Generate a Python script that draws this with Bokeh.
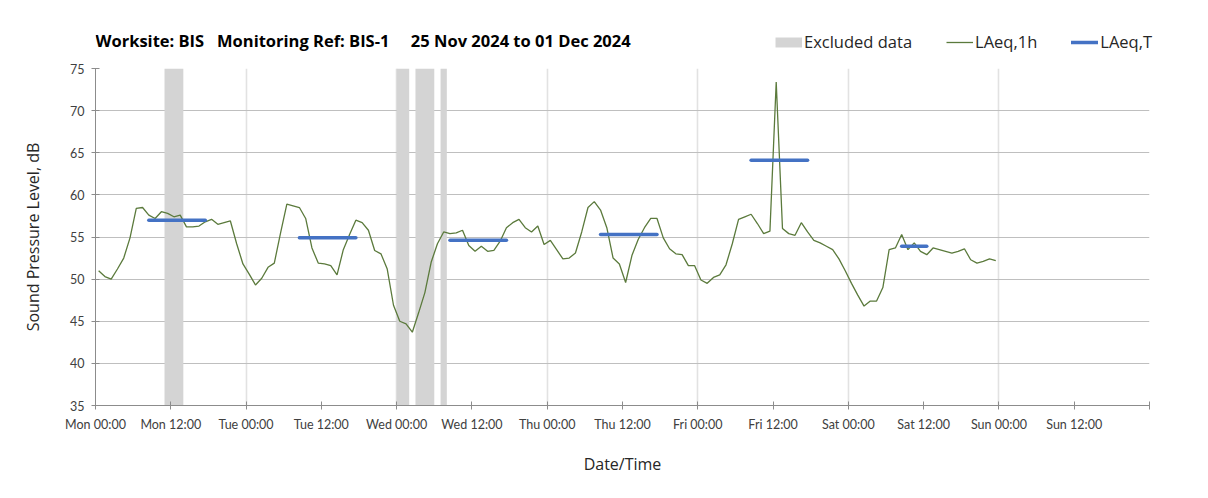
from bokeh.plotting import figure
from bokeh.layouts import column
from bokeh.models import (Range1d, FixedTicker, Label, Legend, LegendItem,
                          ColumnDataSource)
from bokeh.embed import file_html
from bokeh.resources import INLINE

# ---------------- data ----------------
NB = "\u00a0"
title_text = ("Worksite: BIS" + NB * 3 + "Monitoring Ref: BIS-1" + NB * 5 +
              "25 Nov 2024 to 01 Dec 2024")

# hourly LAeq,1h values, Mon 00:00 .. Sat 23:00 (one per hour)
laeq_1h = [
    # Mon
    51.0, 50.3, 50.0, 51.2, 52.5, 54.9, 58.4, 58.5, 57.6, 57.2, 58.0, 57.8,
    57.4, 57.6, 56.2, 56.2, 56.3, 56.8, 57.1, 56.5, 56.7, 56.9, 54.2, 51.8,
    # Tue
    50.6, 49.3, 50.1, 51.4, 51.9, 55.5, 58.9, 58.7, 58.5, 57.2, 53.7, 51.9,
    51.8, 51.6, 50.5, 53.5, 55.3, 57.0, 56.7, 55.8, 53.4, 53.0, 51.2, 46.9,
    # Wed
    45.0, 44.7, 43.7, 46.0, 48.4, 52.0, 54.2, 55.6, 55.4, 55.5, 55.8, 54.0,
    53.3, 53.9, 53.3, 53.4, 54.5, 56.1, 56.7, 57.1, 56.1, 55.6, 56.3, 54.1,
    # Thu
    54.6, 53.5, 52.4, 52.5, 53.1, 55.6, 58.5, 59.2, 58.2, 56.1, 52.5, 51.8,
    49.6, 52.8, 54.7, 56.1, 57.2, 57.2, 54.9, 53.6, 53.0, 52.9, 51.6, 51.6,
    # Fri
    49.9, 49.5, 50.2, 50.5, 51.7, 54.2, 57.1, 57.4, 57.7, 56.6, 55.4, 55.7,
    73.4, 56.0, 55.4, 55.2, 56.7, 55.6, 54.6, 54.3, 53.9, 53.5, 52.4, 51.0,
    # Sat
    49.5, 48.1, 46.8, 47.4, 47.4, 49.0, 53.5, 53.7, 55.3, 53.5, 54.3, 53.3,
    52.9, 53.7, 53.5, 53.3, 53.1, 53.3, 53.6, 52.3, 51.9, 52.1, 52.4, 52.2,
]
# hour (from Mon 00:00) of the middle of each hourly period
hour_mid = [h + 0.5 for h in range(len(laeq_1h))]

# LAeq,T periods (hours from Mon 00:00) and levels
laeqT_start = [8.5, 32.5, 56.5, 80.5, 104.5, 128.5]
laeqT_end = [17.5, 41.5, 65.5, 89.5, 113.5, 132.5]
laeqT_val = [57.0, 54.9, 54.6, 55.3, 64.1, 53.9]

# excluded data periods (hours from Mon 00:00)
excl_start = [11, 48, 51, 55]
excl_end = [14, 50, 54, 56]

tick_hours = list(range(0, 169, 12))
tick_labels = ["Mon 00:00", "Mon 12:00", "Tue 00:00", "Tue 12:00",
               "Wed 00:00", "Wed 12:00", "Thu 00:00", "Thu 12:00",
               "Fri 00:00", "Fri 12:00", "Sat 00:00", "Sat 12:00",
               "Sun 00:00", "Sun 12:00", ""]
day_hours = list(range(24, 169, 24))
y_ticks = [35, 40, 45, 50, 55, 60, 65, 70, 75]
y_min, y_max = 35, 75

FONT = "Lato"
FONT2 = "Open Sans"
TXT = "#404040"
C_EXCL = "#d4d4d4"
C_1H = "#5b7a3c"
C_T = "#4472c4"

W = 1200
HEAD_H = 61

# ---------------- header (title + legend) ----------------
head = figure(width=W, height=HEAD_H, frame_width=W, frame_height=HEAD_H,
              min_border=0, x_range=Range1d(0, W), y_range=Range1d(0, HEAD_H),
              output_backend="svg", toolbar_location=None)
head.axis.visible = False
head.grid.visible = False
head.outline_line_color = None
head.background_fill_color = "white"
head.border_fill_color = "white"

h_ex = head.line([float("nan")], [float("nan")], line_color=C_EXCL,
                 line_width=10, line_cap="butt")
h_1h = head.line([float("nan")], [float("nan")], line_color=C_1H, line_width=1.3)
h_T = head.line([float("nan")], [float("nan")], line_color=C_T, line_width=3.5,
                line_cap="round")
legend = Legend(items=[LegendItem(label="Excluded data", renderers=[h_ex]),
                       LegendItem(label="LAeq,1h", renderers=[h_1h]),
                       LegendItem(label="LAeq,T", renderers=[h_T])],
                orientation="horizontal", location=(775, HEAD_H - 53),
                glyph_width=27, glyph_height=14, label_standoff=2,
                spacing=34, padding=0, margin=0,
                label_text_font=FONT2, label_text_font_size="16.5px",
                label_text_color="#262626",
                border_line_color=None, background_fill_alpha=0)
head.add_layout(legend)
# title (the header's text layer is offset to the chart's plot-area edge)
head.add_layout(Label(x=0, y=HEAD_H - 40, x_units="screen", y_units="screen",
                      text=title_text, text_font=FONT2, text_font_size="16.5px",
                      text_font_style="bold", text_color="black",
                      text_baseline="middle", text_align="left"))

# ---------------- main chart ----------------
p = figure(width=W, height=430, frame_width=1054, frame_height=337,
           min_border_left=95, min_border_right=51, min_border_top=7,
           min_border_bottom=86,
           x_range=Range1d(0, 168), y_range=Range1d(y_min, y_max),
           output_backend="svg", toolbar_location=None)
p.outline_line_color = None
p.background_fill_color = "white"
p.border_fill_color = "white"

# grids
p.ygrid.ticker = FixedTicker(ticks=y_ticks)
p.ygrid.grid_line_color = "#bfbfbf"
p.ygrid.grid_line_width = 1
p.xgrid.ticker = FixedTicker(ticks=day_hours)
p.xgrid.grid_line_color = "#e2e2e2"
p.xgrid.grid_line_width = 1.6

# axes
for ax in (p.xaxis[0], p.yaxis[0]):
    ax.axis_line_color = "#8c8c8c"
    ax.major_tick_line_color = "#8c8c8c"
    ax.major_tick_in = 4
    ax.major_tick_out = 4
    ax.minor_tick_line_color = None
    ax.major_label_text_font = FONT
    ax.major_label_text_font_size = "12.5px"
    ax.major_label_text_color = TXT
    ax.axis_label_text_font = FONT2
    ax.axis_label_text_font_size = "16px"
    ax.axis_label_text_font_style = "normal"
    ax.axis_label_text_color = "#262626"

p.xaxis.ticker = FixedTicker(ticks=tick_hours)
p.xaxis.major_label_overrides = {h: lab for h, lab in zip(tick_hours, tick_labels)}
p.xaxis.major_label_standoff = 7
p.xaxis.axis_label = "Date/Time"
p.xaxis.axis_label_standoff = 18

p.yaxis.ticker = FixedTicker(ticks=y_ticks)
p.yaxis.major_label_standoff = 7
p.yaxis.axis_label = "Sound Pressure Level, dB"
p.yaxis.axis_label_standoff = 23

# excluded bands
excl_src = ColumnDataSource(dict(left=excl_start, right=excl_end,
                                 bottom=[y_min] * len(excl_start),
                                 top=[y_max] * len(excl_start)))
p.quad(left="left", right="right", bottom="bottom", top="top",
       source=excl_src, fill_color=C_EXCL, line_color=None)

# hourly line
p.line(hour_mid, laeq_1h, line_color=C_1H, line_width=1.3)

# LAeq,T segments
p.segment(x0=laeqT_start, x1=laeqT_end, y0=laeqT_val, y1=laeqT_val,
          line_color=C_T, line_width=3.5, line_cap="round")

layout = column(head, p, spacing=0)
open("out.html", "w").write(file_html(layout, INLINE))
